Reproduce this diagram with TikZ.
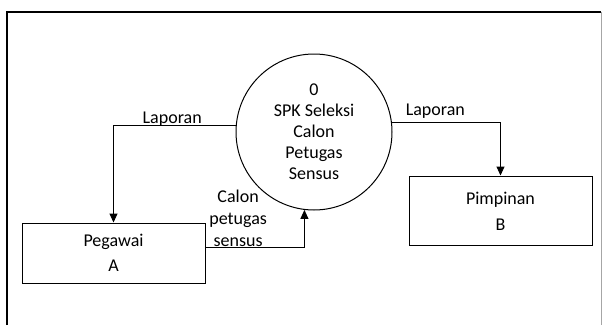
\documentclass[tikz,border=0pt]{standalone}
\usepackage{fontspec}
\setmainfont{Carlito}
\usetikzlibrary{arrows.meta,positioning}

\begin{document}
\begin{tikzpicture}[x=1pt, y=1pt, line width=1pt, font=\fontsize{18}{21}\selectfont,
	proses/.style={draw, circle, minimum size=156pt, inner sep=0pt, align=center},
	entitas/.style={draw, rectangle, minimum width=183pt, inner sep=0pt, align=center},
	alir/.style={-{Triangle[length=9pt, width=8pt]}}]
			%%%%% START %%%%%
			\useasboundingbox (0, 0) rectangle (602, 325);
			
			% bingkai
			\draw[line width=1.3pt] (7, 0) -- (7, 313) -- (601, 313);
			\draw[color=black!35] (601, 313) -- (601, 0);
			
			% proses dan entitas luar
			\node[proses] (spk) at (314, 193) {0\\SPK Seleksi\\Calon\\Petugas\\Sensus};
			\node[entitas, minimum height=60pt] (pegawai) at (113.5, 72) {Pegawai\\[4pt]A};
			\node[entitas, minimum height=69pt] (pimpinan) at (500.5, 114.5) {\rule{0pt}{13pt}Pimpinan\\[5pt]B};
			
			% aliran data
			\draw[alir] (spk.175) -| (pegawai.north)
				node[pos=0.26, above=-5pt] (lapA) {Laporan};
			\draw[alir] ([yshift=6pt]pegawai.east) -| (spk.263)
				node[pos=0.165, above=-3pt, align=center, font=\fontsize{18}{22}\selectfont] (calon) {Calon\\petugas\\sensus};
			\draw[alir] (spk.7) -| (pimpinan.north)
				node[pos=0.2, above=0pt] (lapB) {Laporan};
			
			%%%%% END %%%%%
		\end{tikzpicture}
\end{document}
